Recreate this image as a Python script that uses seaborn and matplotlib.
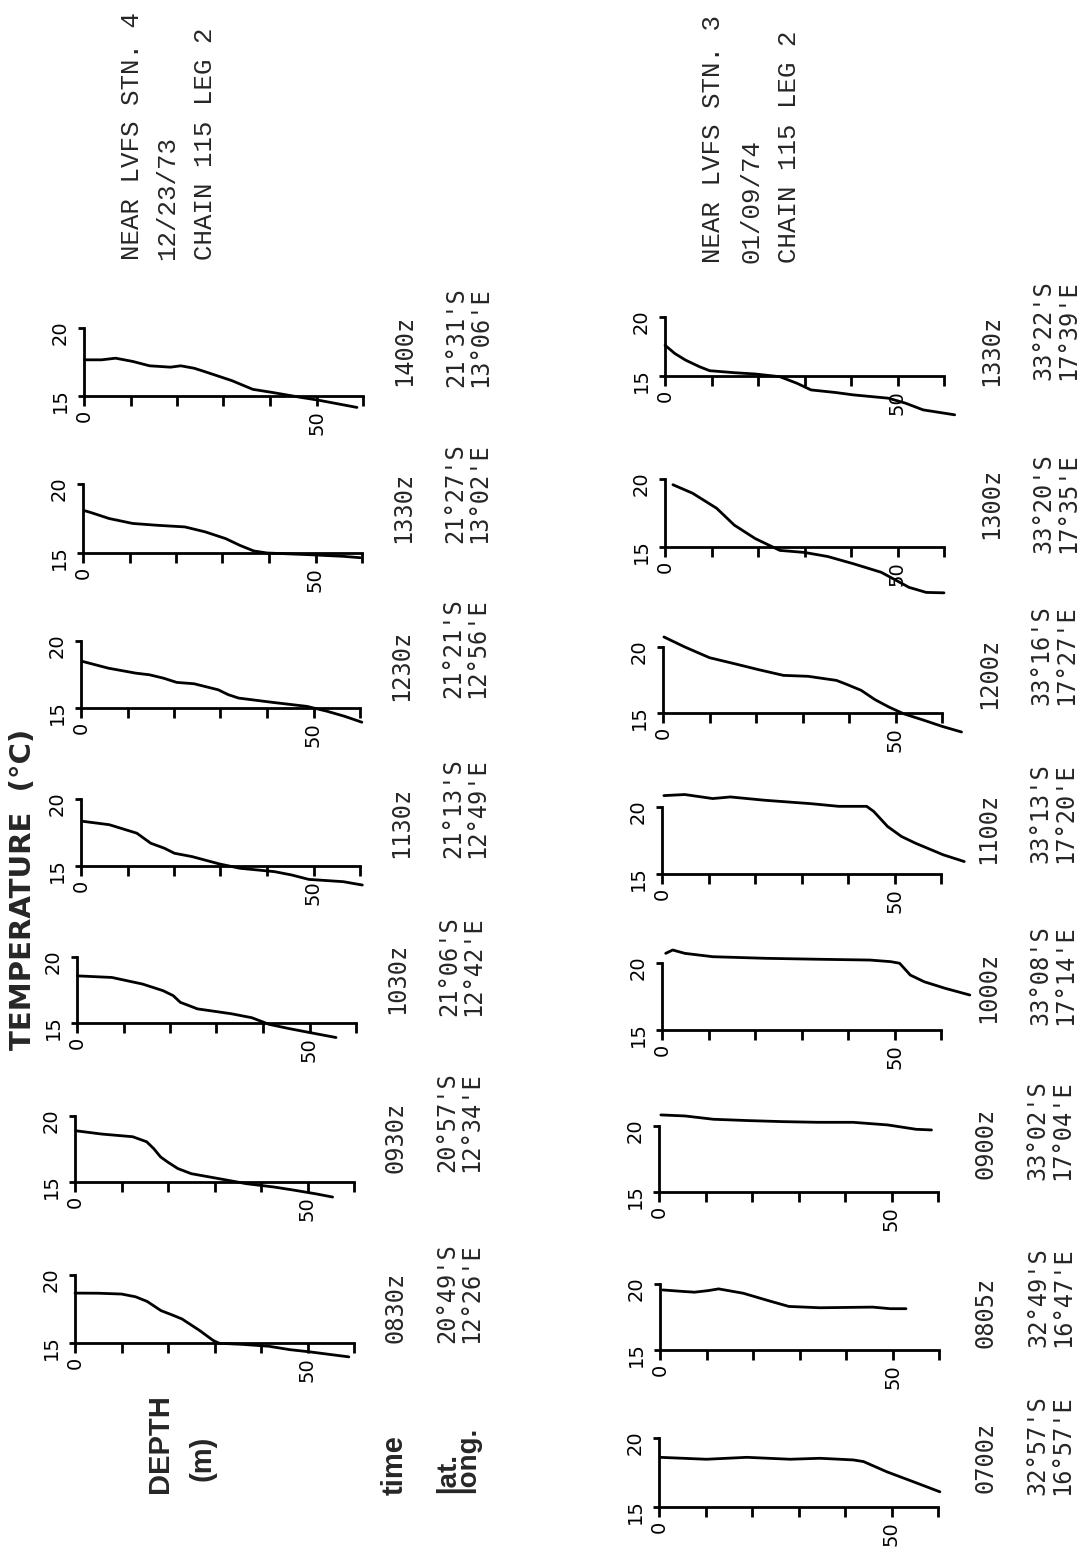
import matplotlib
matplotlib.use("Agg")
import matplotlib.pyplot as plt
import seaborn as sns
import pandas as pd

# ---------------- DATA ----------------
# 12/23/73, near LVFS STN. 4  (depth in m, temperature in deg C)
times_73 = ["0830z", "0930z", "1030z", "1130z", "1230z", "1330z", "1400z"]
lat_73 = ["20°49'S", "20°57'S", "21°06'S", "21°13'S", "21°21'S", "21°27'S", "21°31'S"]
long_73 = ["12°26'E", "12°34'E", "12°42'E", "12°49'E", "12°56'E", "13°02'E", "13°06'E"]

d_0830 = [0, 5, 10, 13, 15.5, 18.5, 21, 23, 26.8, 29.7, 31, 36, 41.7, 46.2, 50.7, 55, 58.9]
t_0830 = [18.67, 18.66, 18.6, 18.4, 18.06, 17.38, 17.05, 16.77, 15.92, 15.19, 14.98, 14.9, 14.76, 14.51, 14.34, 14.15, 13.98]
d_0930 = [0.2, 5.8, 12.4, 15.4, 16.9, 18.4, 19.9, 22.1, 25, 31, 36.9, 42.8, 47.3, 51.7, 55.4]
t_0930 = [18.88, 18.63, 18.43, 18.05, 17.54, 16.9, 16.52, 16.02, 15.63, 15.25, 14.87, 14.62, 14.37, 14.11, 13.86]
d_1030 = [0.1, 7.5, 14.1, 18.5, 20.7, 22.2, 25.9, 33.2, 37.6, 41.3, 45.7, 49.4, 55.7]
t_1030 = [18.57, 18.45, 17.95, 17.45, 17.07, 16.57, 16.07, 15.7, 15.4, 14.9, 14.57, 14.32, 13.9]
d_1130 = [0.5, 6.1, 12, 15, 17.9, 20.1, 23.9, 29.8, 34.2, 41.6, 45.3, 49, 56.4, 60.5]
t_1130 = [18.33, 18.08, 17.45, 16.7, 16.33, 15.95, 15.7, 15.15, 14.83, 14.58, 14.33, 14.0, 13.83, 13.58]
d_1230 = [0.4, 5.9, 11.8, 14.7, 17.7, 20.6, 24.3, 29.5, 31.7, 33.9, 41.2, 48.6, 53, 56.7, 60.4]
t_1230 = [18.47, 17.97, 17.6, 17.48, 17.23, 16.91, 16.81, 16.36, 15.99, 15.74, 15.42, 15.12, 14.75, 14.38, 13.94]
d_1330a = [0.4, 1.9, 5.6, 10.7, 15.9, 21.9, 26.3, 30.7, 33.7, 36.7, 39.6, 48.5, 55.9, 59.6]
t_1330a = [18.06, 17.91, 17.5, 17.14, 17.01, 16.89, 16.53, 16.04, 15.56, 15.15, 15.0, 14.88, 14.76, 14.66]
d_1400 = [0.1, 3.8, 6.8, 10.5, 14.1, 18.6, 20.8, 23.7, 25.9, 31.8, 36.3, 40.7, 46.6, 50.3, 58.7]
t_1400 = [17.66, 17.66, 17.78, 17.54, 17.22, 17.12, 17.22, 17.04, 16.8, 16.13, 15.49, 15.25, 14.9, 14.7, 14.16]

# 01/09/74, near LVFS STN. 3
times_74 = ["0700z", "0805z", "0900z", "1000z", "1100z", "1200z", "1300z", "1330z"]
lat_74 = ["32°57'S", "32°49'S", "33°02'S", "33°08'S", "33°13'S", "33°16'S", "33°20'S", "33°22'S"]
long_74 = ["16°57'E", "16°47'E", "17°04'E", "17°14'E", "17°20'E", "17°27'E", "17°35'E", "17°39'E"]

d_0700 = [0.2, 10.2, 18.9, 28.2, 34.6, 38.9, 41.8, 44, 49, 54.7, 60.4]
t_0700 = [18.6, 18.46, 18.6, 18.46, 18.53, 18.46, 18.41, 18.29, 17.55, 16.83, 16.1]
d_0805 = [0.6, 4.4, 7.4, 10.4, 12.6, 17.9, 23.2, 27.7, 34.4, 45.7, 49.5, 52.9]
t_0805 = [19.55, 19.45, 19.38, 19.5, 19.63, 19.3, 18.75, 18.3, 18.2, 18.25, 18.13, 18.13]
d_0900 = [0.4, 5.6, 11.7, 19.2, 26.7, 34.2, 41.7, 49.2, 55.3, 58.6]
t_0900 = [20.84, 20.76, 20.51, 20.41, 20.33, 20.28, 20.28, 20.08, 19.75, 19.7]
d_1000 = [0.8, 2.3, 4.9, 10.9, 22.2, 33.5, 44.7, 49.2, 51.1, 53.4, 56.4, 60.9, 66.2]
t_1000 = [20.72, 20.97, 20.72, 20.47, 20.35, 20.28, 20.22, 20.1, 19.98, 19.1, 18.6, 18.11, 17.61]
d_1100 = [0.4, 4.9, 10.9, 14.7, 22.2, 32, 38, 44, 45.5, 48.5, 51.5, 54.5, 60.5, 65]
t_1100 = [20.85, 20.93, 20.63, 20.75, 20.5, 20.25, 20.05, 20.05, 19.68, 18.55, 17.8, 17.3, 16.43, 15.93]
d_1200 = [0.2, 4.7, 10, 15.3, 20.6, 25.9, 31.2, 37.3, 39.5, 42.6, 45.6, 48.6, 51.7, 56.2, 60, 64.2]
t_1200 = [20.76, 20.0, 19.19, 18.74, 18.28, 17.85, 17.78, 17.47, 17.17, 16.72, 16.01, 15.45, 14.95, 14.44, 13.99, 13.56]
d_1300 = [1.7, 5.9, 11.1, 14.9, 19.4, 24.7, 30, 35, 40.5, 46.5, 52.5, 56.2, 60]
t_1300 = [19.58, 18.96, 17.85, 16.61, 15.62, 14.75, 14.6, 14.3, 13.77, 13.14, 12.03, 11.66, 11.63]
d_1330b = [0, 2.1, 4.4, 7.4, 9.6, 14.9, 19.4, 24.7, 28.4, 31.4, 36.7, 40.5, 48, 51.7, 55.5, 62.3]
t_1330b = [17.61, 16.91, 16.35, 15.79, 15.45, 15.28, 15.17, 14.94, 14.38, 13.82, 13.6, 13.4, 13.12, 12.7, 12.13, 11.71]

depth_ticks = [0, 10, 20, 30, 40, 50, 60]
depth_ticklabels = ["0", "", "", "", "", "50", ""]
temp_ticks = [15, 20]
temp_ticklabels = ["15", "20"]

title_73 = ["NEAR LVFS STN. 4", "12/23/73", "CHAIN 115 LEG 2"]
title_74 = ["NEAR LVFS STN. 3", "01/09/74", "CHAIN 115 LEG 2"]

profiles_73 = [(d_0830, t_0830), (d_0930, t_0930), (d_1030, t_1030), (d_1130, t_1130),
               (d_1230, t_1230), (d_1330a, t_1330a), (d_1400, t_1400)]
profiles_74 = [(d_0700, t_0700), (d_0805, t_0805), (d_0900, t_0900), (d_1000, t_1000),
               (d_1100, t_1100), (d_1200, t_1200), (d_1300, t_1300), (d_1330b, t_1330b)]

# ---------------- LAYOUT (pixel positions on the rotated page) ----------------
W, H = 1092, 1554
PPM = 4.65                 # px per metre of depth
XLIM = (-2, 70)
YLIM = (11, 21.6)

x0_73 = [75, 75, 77, 81, 81, 83, 84]
y20_73 = [1275, 1116, 957, 799, 641, 484, 328]
y15_73 = [1343, 1182, 1023, 866, 708, 553, 396]
tyc_73 = [1307, 1137, 978, 822, 665, 507, 350]
lyc_73 = [1293, 1122, 966, 808, 648, 493, 337]

x0_74 = [659, 660, 659, 662, 662, 663, 665, 665]
y20_74 = [1438, 1284, 1126, 963, 807, 647, 479, 317]
y15_74 = [1507, 1350, 1192, 1030, 874, 713, 547, 376]
tyc_74 = [1457, 1312, 1143, 987, 828, 673, 503, 350]
lyc_74 = [1445, 1297, 1130, 975, 813, 655, 503, 330]

sns.set_theme(style="white")
plt.rcParams["font.family"] = ["DejaVu Sans"]
plt.rcParams["axes.edgecolor"] = "black"
plt.rcParams["xtick.color"] = "black"
plt.rcParams["ytick.color"] = "black"

fig = plt.figure(figsize=(W / 100, H / 100), dpi=100)
fig.patch.set_facecolor("white")

LW = 2.0


def fx(px):
    return px / W


def fy(py):
    return 1 - py / H


def add_panel(x0, y20, y15, depth, temp):
    ppd = (y15 - y20) / 5.0
    left_px = x0 + XLIM[0] * PPM
    w_px = (XLIM[1] - XLIM[0]) * PPM
    top_px = y20 - (YLIM[1] - 20) * ppd
    bot_px = y15 + (15 - YLIM[0]) * ppd
    ax = fig.add_axes([fx(left_px), fy(bot_px), w_px / W, (bot_px - top_px) / H])
    ax.patch.set_alpha(0)
    df = pd.DataFrame({"depth": depth, "temp": temp})
    sns.lineplot(data=df, x="depth", y="temp", ax=ax, color="black",
                 linewidth=LW, estimator=None, sort=False, legend=False)
    ax.set_xlim(XLIM)
    ax.set_ylim(YLIM)
    for s in ("top", "right"):
        ax.spines[s].set_visible(False)
    ax.spines["left"].set_position(("data", 0))
    ax.spines["left"].set_bounds(15, 20)
    ax.spines["bottom"].set_position(("data", 15))
    ax.spines["bottom"].set_bounds(0, 60)
    for s in ("left", "bottom"):
        ax.spines[s].set_linewidth(LW)
        ax.spines[s].set_color("black")
    ax.set_xticks(depth_ticks)
    ax.set_xticklabels(depth_ticklabels)
    ax.set_yticks(temp_ticks)
    ax.set_yticklabels(temp_ticklabels)
    ax.tick_params(axis="x", bottom=True, direction="out", length=7, width=LW,
                   pad=3, labelsize=14, labelrotation=90)
    ax.tick_params(axis="y", left=True, direction="out", length=4.5, width=LW,
                   pad=6, labelsize=14, labelrotation=90)
    ax.set_xlabel("")
    ax.set_ylabel("")
    return ax


mono = "DejaVu Sans Mono"
for i, (d, t) in enumerate(profiles_73):
    add_panel(x0_73[i], y20_73[i], y15_73[i], d, t)
    dx = x0_73[i] - 75
    fig.text(fx(395 + dx), fy(tyc_73[i]), times_73[i], rotation=90, ha="center",
             va="center", family=mono, fontsize=17)
    fig.text(fx(447 + dx), fy(lyc_73[i]), lat_73[i], rotation=90, ha="center",
             va="center", family=mono, fontsize=17)
    fig.text(fx(471 + dx), fy(lyc_73[i]), long_73[i], rotation=90, ha="center",
             va="center", family=mono, fontsize=17)

for i, (d, t) in enumerate(profiles_74):
    add_panel(x0_74[i], y20_74[i], y15_74[i], d, t)
    dx = x0_74[i] - 659
    fig.text(fx(985 + dx), fy(tyc_74[i]), times_74[i], rotation=90, ha="center",
             va="center", family=mono, fontsize=17)
    fig.text(fx(1037 + dx), fy(lyc_74[i]), lat_74[i], rotation=90, ha="center",
             va="center", family=mono, fontsize=17)
    fig.text(fx(1062 + dx), fy(lyc_74[i]), long_74[i], rotation=90, ha="center",
             va="center", family=mono, fontsize=17)

# station titles
for xc, line in zip([132, 167, 205], title_73):
    fig.text(fx(xc), fy(260), line, rotation=90, ha="center", va="bottom",
             family="Liberation Mono", fontsize=18.5)
for xc, line in zip([713, 751, 789], title_74):
    fig.text(fx(xc), fy(263), line, rotation=90, ha="center", va="bottom",
             family="Liberation Mono", fontsize=18.5)

# axis headings
fig.text(fx(23), fy(1050), "TEMPERATURE  (°C)", rotation=90, ha="center", va="bottom",
         family="DejaVu Sans", fontweight="bold", fontsize=21)
fig.text(fx(160), fy(1493), "DEPTH", rotation=90, ha="center", va="bottom",
         family="Liberation Sans", fontweight="bold", fontsize=21)
fig.text(fx(203), fy(1458), "(m)", rotation=90, ha="center", va="center",
         family="Liberation Sans", fontweight="bold", fontsize=21)
fig.text(fx(395), fy(1495), "time", rotation=90, ha="center", va="bottom",
         family="Liberation Sans", fontweight="bold", fontsize=21)
fig.text(fx(458), fy(1493), "lat.\nlong.", rotation=90, ha="center", va="bottom",
         multialignment="left", linespacing=0.72,
         family="Liberation Sans", fontweight="bold", fontsize=20)

fig.savefig("out.png", dpi=100, facecolor="white")
